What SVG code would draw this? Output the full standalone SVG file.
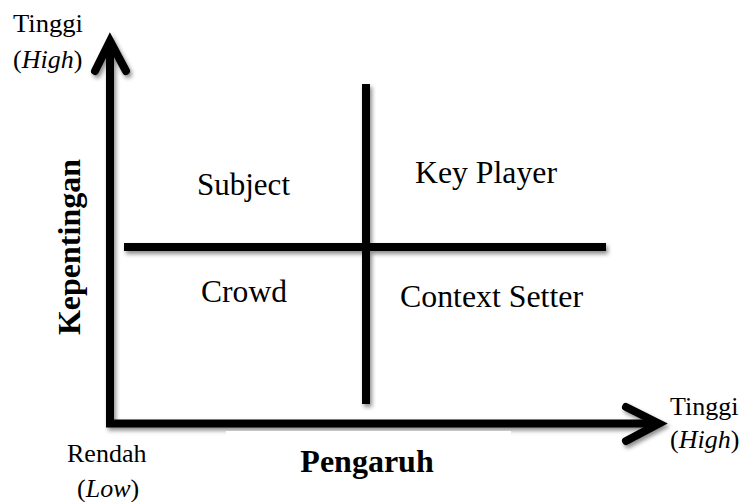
<svg xmlns="http://www.w3.org/2000/svg" width="741" height="502" viewBox="0 0 741 502">
  <style>
    .lbl { font-family: "Liberation Serif", "Times New Roman", serif; fill: #000; }
    .big { font-size: 32px; }
    .small { font-size: 26px; }
    .bold { font-weight: bold; }
    .ax { fill: none; stroke: #000; stroke-width: 8; }
  </style>
  <defs>
    <filter id="sh" x="-10%" y="-10%" width="130%" height="130%">
      <feDropShadow dx="2" dy="3" stdDeviation="2" flood-color="#000" flood-opacity="0.45"/>
    </filter>
  </defs>
  <rect x="0" y="0" width="741" height="502" fill="#fff"/>

  <g id="connectors" filter="url(#sh)">
    <path class="ax" d="M110,44 V423.5 H656" stroke-linejoin="miter"/>
    <polyline class="ax" points="95,71 110,41 126,71" stroke-linecap="round" stroke-linejoin="miter"/>
    <polyline class="ax" points="626,407 659,423.5 626,441" stroke-linecap="round" stroke-linejoin="miter"/>
    <line class="ax" x1="124" y1="247" x2="606" y2="247"/>
    <line class="ax" x1="366" y1="84" x2="366" y2="404"/>
  </g>

  <rect x="226" y="431" width="285" height="71" fill="#fff"/>

  <g id="y-high">
    <text class="lbl small" x="13" y="32" textLength="70" lengthAdjust="spacingAndGlyphs">Tinggi</text>
    <text class="lbl small" x="13" y="68">(<tspan font-style="italic">High</tspan>)</text>
  </g>
  <g id="y-axis-title">
    <text class="lbl big bold" transform="translate(80,247) rotate(-90)" text-anchor="middle">Kepentingan</text>
  </g>
  <g id="subject">
    <text class="lbl big" x="197" y="195" textLength="93" lengthAdjust="spacingAndGlyphs">Subject</text>
  </g>
  <g id="key-player">
    <text class="lbl big" x="415" y="183" textLength="142" lengthAdjust="spacingAndGlyphs">Key Player</text>
  </g>
  <g id="crowd">
    <text class="lbl big" x="201" y="302" textLength="86" lengthAdjust="spacingAndGlyphs">Crowd</text>
  </g>
  <g id="context-setter">
    <text class="lbl big" x="400" y="307" textLength="183" lengthAdjust="spacingAndGlyphs">Context Setter</text>
  </g>
  <g id="x-low">
    <text class="lbl small" x="67" y="462">Rendah</text>
    <text class="lbl small" x="77" y="497">(<tspan font-style="italic">Low</tspan>)</text>
  </g>
  <g id="x-high">
    <text class="lbl small" x="670" y="415">Tinggi</text>
    <text class="lbl small" x="670" y="448">(<tspan font-style="italic">High</tspan>)</text>
  </g>
  <g id="x-axis-title">
    <text class="lbl big bold" x="367" y="472" text-anchor="middle">Pengaruh</text>
  </g>
</svg>
